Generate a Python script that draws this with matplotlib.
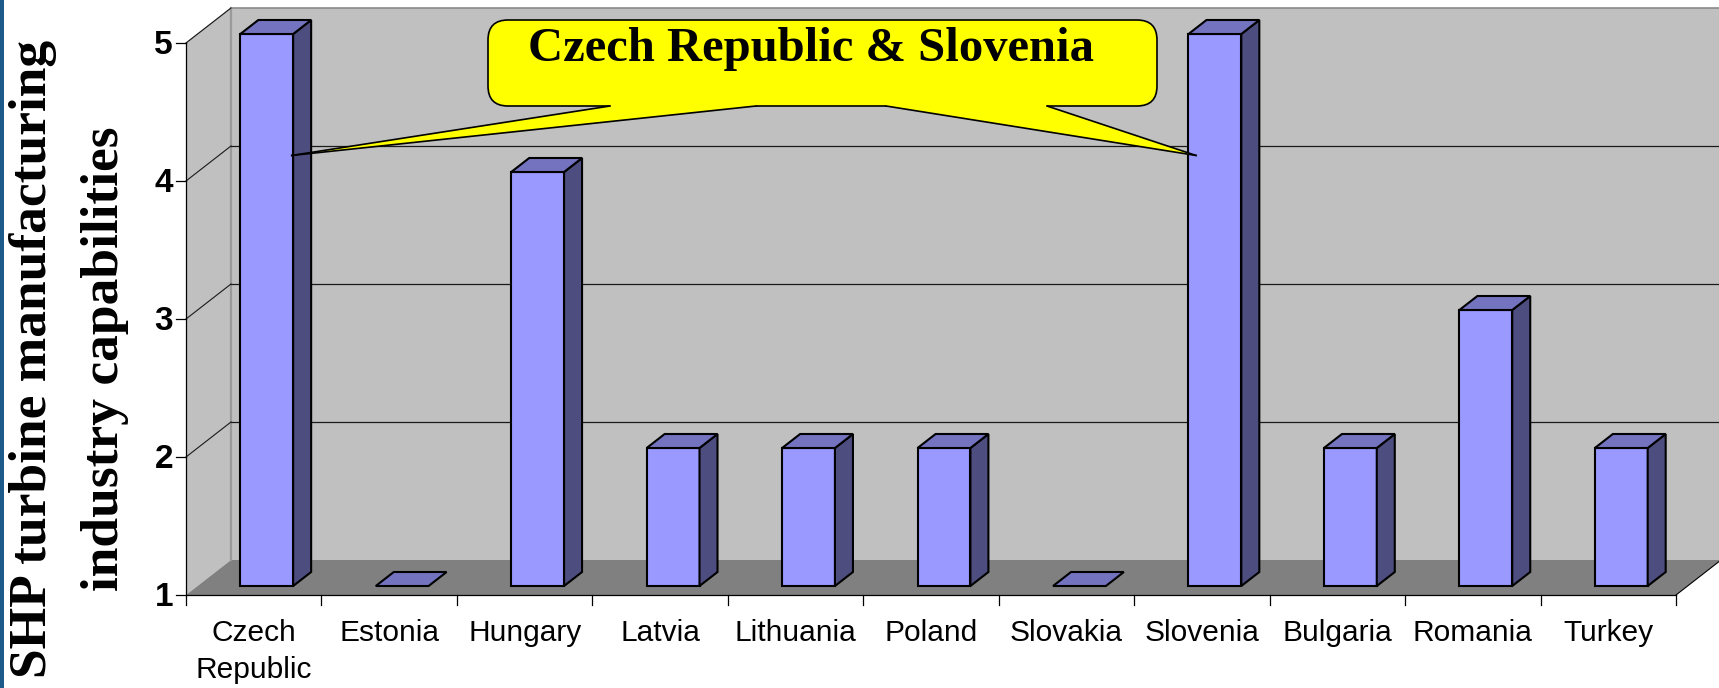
import matplotlib
matplotlib.use("Agg")
import matplotlib.pyplot as plt
from matplotlib.patches import Polygon, Rectangle, FancyBboxPatch
from matplotlib.lines import Line2D
from matplotlib.transforms import IdentityTransform

# ---------------- data ----------------
categories = ["Czech\nRepublic", "Estonia", "Hungary", "Latvia", "Lithuania",
              "Poland", "Slovakia", "Slovenia", "Bulgaria", "Romania", "Turkey"]
values = [5, 1, 4, 2, 2, 2, 1, 5, 2, 3, 2]
yticks = [1, 2, 3, 4, 5]
ylabel_lines = ["SHP turbine manufacturing", "industry capabilities"]
callout_text = "Czech Republic & Slovenia"
callout_targets = [0, 7]   # indices of the bars pointed to
callout_level = 4.12

# ---------------- layout ----------------
W, H, DPI = 1719, 688, 100
fig = plt.figure(figsize=(W / DPI, H / DPI), dpi=DPI)
fig.patch.set_facecolor("white")

x0px, x1px = 186, 1676      # front plane, pixels from left
ybot, ytop = 595, 43        # front plane, pixels from top
ax = fig.add_axes([x0px / W, (H - ybot) / H, (x1px - x0px) / W, (ybot - ytop) / H])
n = len(categories)
ax.set_xlim(-0.5, n - 0.5)
ax.set_ylim(yticks[0], yticks[-1])
ax.axis("off")

sx = (x1px - x0px) / n                         # px per category
sy = (ybot - ytop) / (yticks[-1] - yticks[0])  # px per unit

DEPTH = (45, 35)     # full floor depth in px
FRONT = (13, 9)      # bar front plane offset in px
BDEP = (18, 14)      # bar depth in px
Dx, Dy = DEPTH[0] / sx, DEPTH[1] / sy
Fx, Fy = FRONT[0] / sx, FRONT[1] / sy
Bx, By = BDEP[0] / sx, BDEP[1] / sy
vmin, vmax = yticks[0], yticks[-1]
xl, xr = -0.5, n - 0.5

wall_c = "#C0C0C0"
floor_c = "#808080"

# back wall (extends beyond right edge)
ax.add_patch(Polygon([(xl + Dx, vmin + Dy), (xr + Dx + 1, vmin + Dy),
                      (xr + Dx + 1, vmax + Dy), (xl + Dx, vmax + Dy)],
                     closed=True, facecolor=wall_c, edgecolor="none",
                     zorder=0, clip_on=False))
# side wall
ax.add_patch(Polygon([(xl, vmin), (xl, vmax), (xl + Dx, vmax + Dy), (xl + Dx, vmin + Dy)],
                     closed=True, facecolor=wall_c, edgecolor="none",
                     zorder=0, clip_on=False))
# floor
ax.add_patch(Polygon([(xl, vmin), (xr, vmin), (xr + Dx, vmin + Dy), (xl + Dx, vmin + Dy)],
                     closed=True, facecolor=floor_c, edgecolor="none",
                     zorder=0.5, clip_on=False))
# wall edges
ax.add_line(Line2D([xl + Dx, xr + Dx + 1], [vmax + Dy, vmax + Dy], color="#8a8a8a",
                   lw=1.2, zorder=1, clip_on=False))
ax.add_line(Line2D([xl + Dx, xl + Dx], [vmin + Dy, vmax + Dy], color="#9a9a9a",
                   lw=1.6, zorder=1, clip_on=False))
ax.add_line(Line2D([xl, xl + Dx], [vmax, vmax + Dy], color="#a8a8a8",
                   lw=0.8, zorder=1, clip_on=False))

# gridlines
for v in yticks[1:-1]:
    ax.add_line(Line2D([xl + Dx, xr + Dx + 1], [v + Dy, v + Dy], color="#1a1a1a",
                       lw=0.9, zorder=1, clip_on=False))
for v in yticks[1:]:
    ax.add_line(Line2D([xl, xl + Dx], [v, v + Dy], color="#1a1a1a",
                       lw=0.8, zorder=1, clip_on=False))

# axes lines & ticks
ax.add_line(Line2D([xl, xl], [vmin, vmax], color="black", lw=0.9, zorder=2, clip_on=False))
ax.add_line(Line2D([xl, xr], [vmin, vmin], color="black", lw=0.9, zorder=2, clip_on=False))
ax.add_line(Line2D([xr, xr + Dx], [vmin, vmin + Dy], color="black", lw=0.8, zorder=2, clip_on=False))
for v in yticks:
    ax.add_line(Line2D([xl - 10 / sx, xl], [v, v], color="black", lw=0.9, zorder=2, clip_on=False))
    ax.text(xl - 13 / sx, v - 3 / sy, str(v), ha="right", va="center",
            fontsize=24, fontweight="bold", family="Liberation Sans", zorder=2)
for k in range(n + 1):
    xb = xl + k
    ax.add_line(Line2D([xb, xb], [vmin - 10 / sy, vmin], color="black", lw=0.9,
                       zorder=2, clip_on=False))
for i, c in enumerate(categories):
    ax.text(i, vmin - 24 / sy, c, ha="center", va="top", fontsize=21.5,
            family="Liberation Sans", linespacing=1.4, zorder=2)

# bars
w = 0.39
front_c, side_c, top_c = "#9999FF", "#4D4D80", "#7373BF"
ekw = dict(edgecolor="black", linewidth=1.5, joinstyle="miter", clip_on=False)
for i, v in enumerate(values):
    xa = i - w / 2 + Fx
    xb = i + w / 2 + Fx
    b0 = vmin + Fy
    t0 = v + Fy
    if v > vmin:
        ax.add_patch(Rectangle((xa, b0), w, v - vmin, facecolor=front_c, zorder=3, **ekw))
        ax.add_patch(Polygon([(xb, b0), (xb + Bx, b0 + By), (xb + Bx, t0 + By), (xb, t0)],
                             closed=True, facecolor=side_c, zorder=3, **ekw))
    ax.add_patch(Polygon([(xa, t0), (xb, t0), (xb + Bx, t0 + By), (xa + Bx, t0 + By)],
                         closed=True, facecolor=top_c, zorder=3, **ekw))

# ---------------- callout ----------------
fig.canvas.draw()
def to_px(x, v):
    return ax.transData.transform((x, v))

tip_left = to_px(callout_targets[0] + w / 2 + Fx - 0.01, callout_level + Fy)
tip_right = to_px(callout_targets[1] - w / 2 + Fx + 0.055, callout_level + Fy)

bx0, bx1 = 488, 1157
by_top, by_bot = 20, 106
BY0 = H - by_bot
idt = IdentityTransform()
box = FancyBboxPatch((bx0, BY0), bx1 - bx0, by_bot - by_top,
                     boxstyle="round,pad=0,rounding_size=20",
                     facecolor="#FFFF00", edgecolor="black", linewidth=1.2,
                     transform=idt, zorder=10)
fig.add_artist(box)
for (a, b), tip in [((610, 756), tip_left), ((886, 1047), tip_right)]:
    fig.add_artist(Polygon([(a, BY0), (a, BY0 + 4), (b, BY0 + 4), (b, BY0), tuple(tip)],
                           closed=True, facecolor="#FFFF00", edgecolor="none",
                           transform=idt, zorder=11))
    for xx in (a, b):
        fig.add_artist(Line2D([xx, tip[0]], [BY0, tip[1]], color="black", lw=1.2,
                              transform=idt, zorder=12))

fig.text(811 / W, 1 - 49 / H, callout_text, ha="center", va="center",
         fontsize=35, fontweight="bold", family="Liberation Serif", zorder=13)

# ---------------- y label ----------------
fig.text(33 / W, 1 - 359 / H, ylabel_lines[0], rotation=90, ha="center", va="center",
         fontsize=38.5, fontweight="bold", family="Liberation Serif")
fig.text(105 / W, 1 - 359 / H, ylabel_lines[1], rotation=90, ha="center", va="center",
         fontsize=38.5, fontweight="bold", family="Liberation Serif")

# left edge stripe
fig.add_artist(Rectangle((0, 0), 4, H, facecolor="#1d5a8a", edgecolor="none",
                         transform=idt, zorder=20))

fig.savefig("out.png", dpi=DPI, facecolor="white")
